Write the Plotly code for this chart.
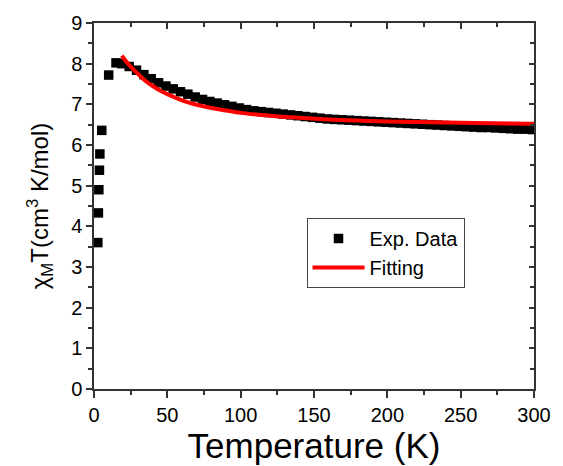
import plotly.graph_objects as go

# Measured chi_M*T versus temperature
temp_exp = [2.6, 3.0, 3.3, 3.7, 4.0, 5.3, 10, 15, 19,
            24, 29, 34, 39, 44, 49, 54, 59, 64, 69, 74, 79, 84, 89, 94, 99,
            104, 109, 114, 119, 124, 129, 134, 139, 144, 149, 154, 159, 164,
            169, 174, 179, 184, 189, 194, 199, 204, 209, 214, 219, 224, 229,
            234, 239, 244, 249, 254, 259, 264, 269, 274, 279, 284, 289, 294, 299]
chiT_exp = [3.60, 4.33, 4.90, 5.38, 5.78, 6.36, 7.72, 8.02, 8.00,
            7.93, 7.84, 7.73, 7.63, 7.53, 7.45, 7.38, 7.31, 7.25, 7.18, 7.12,
            7.07, 7.03, 6.99, 6.95, 6.91, 6.87, 6.84, 6.82, 6.80, 6.78, 6.76,
            6.74, 6.72, 6.70, 6.68, 6.66, 6.64, 6.63, 6.62, 6.61, 6.60, 6.59,
            6.58, 6.57, 6.56, 6.55, 6.54, 6.53, 6.52, 6.51, 6.50, 6.49, 6.48,
            6.47, 6.46, 6.45, 6.44, 6.43, 6.43, 6.42, 6.41, 6.40, 6.39, 6.39, 6.38]

# Fitted curve
temp_fit = [19, 22, 25, 30, 35, 40, 45, 50, 60, 70, 80, 90, 100,
            120, 140, 160, 180, 200, 230, 260, 300]
chiT_fit = [8.20, 8.05, 7.93, 7.75, 7.58, 7.45, 7.34, 7.25, 7.10, 6.99,
            6.91, 6.85, 6.79, 6.72, 6.67, 6.63, 6.60, 6.58, 6.56, 6.54, 6.52]

x_ticks = [0, 50, 100, 150, 200, 250, 300]
y_ticks = [0, 1, 2, 3, 4, 5, 6, 7, 8, 9]

FONT = "Liberation Sans, Arial, sans-serif"
AXIS_COLOR = "#333333"

fig = go.Figure()
fig.add_trace(go.Scatter(
    x=temp_exp, y=chiT_exp, mode="markers", name="Exp. Data",
    marker=dict(symbol="square", size=9.5, color="black", line=dict(width=0)),
))
fig.add_trace(go.Scatter(
    x=temp_fit, y=chiT_fit, mode="lines", name="Fitting",
    line=dict(color="#ff0000", width=4, shape="spline"),
))
# carrier trace for the mirrored top/right axes
fig.add_trace(go.Scatter(
    x=[None], y=[None], xaxis="x2", yaxis="y2", showlegend=False,
    hoverinfo="skip",
))

common = dict(showline=True, linecolor=AXIS_COLOR, linewidth=1.5,
              tickcolor=AXIS_COLOR, tickwidth=1.5, showgrid=False,
              zeroline=False)

fig.update_layout(
    width=563, height=466,
    margin=dict(l=94, r=20, t=23, b=77),
    paper_bgcolor="white", plot_bgcolor="white",
    font=dict(family=FONT, color="black"),
    xaxis=dict(
        range=[0, 300], tickvals=x_ticks, ticks="outside", ticklen=7,
        minor=dict(ticks="outside", ticklen=4, dtick=25, tickcolor=AXIS_COLOR,
                   tickwidth=1.5, showgrid=False),
        tickfont=dict(size=20),
        title=dict(text="Temperature (K)", font=dict(size=35), standoff=4),
        **common,
    ),
    yaxis=dict(
        range=[0, 9], tickvals=y_ticks, ticks="outside", ticklen=6,
        minor=dict(ticks="outside", ticklen=4, dtick=0.5, tickcolor=AXIS_COLOR,
                   tickwidth=1.5, showgrid=False),
        tickfont=dict(size=20),
        title=dict(text="χ<sub>M</sub>T(cm<sup>3</sup> K/mol)",
                   font=dict(size=24), standoff=16),
        **common,
    ),
    xaxis2=dict(
        overlaying="x", side="top", range=[0, 300], tickvals=x_ticks,
        ticks="inside", ticklen=6, showticklabels=False,
        minor=dict(ticks="inside", ticklen=4, dtick=25, tickcolor=AXIS_COLOR,
                   tickwidth=1.5, showgrid=False),
        **common,
    ),
    yaxis2=dict(
        overlaying="y", side="right", range=[0, 9], tickvals=y_ticks,
        ticks="inside", ticklen=5, showticklabels=False,
        minor=dict(ticks="inside", ticklen=4, dtick=0.5, tickcolor=AXIS_COLOR,
                   tickwidth=1.5, showgrid=False),
        **common,
    ),
    legend=dict(
        x=0.483, y=0.467, xanchor="left", yanchor="top",
        bgcolor="white", bordercolor="#444444", borderwidth=1,
        font=dict(size=20), itemwidth=52, tracegroupgap=0,
    ),
    showlegend=True,
)

fig.write_html("out.html")
